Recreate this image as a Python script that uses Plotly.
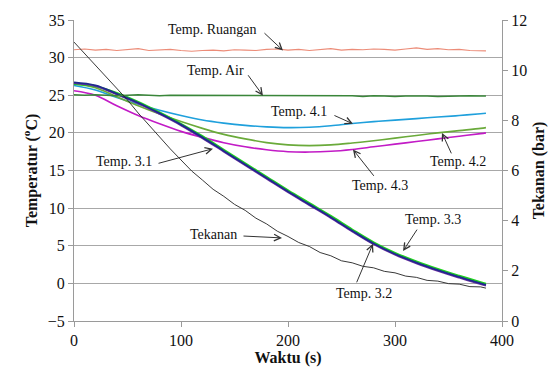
import plotly.graph_objects as go

# ---------------- data ----------------
t10 = list(range(0, 381, 10)) + [385]
t20 = list(range(0, 381, 20)) + [385]

temp_ruangan = [31.05, 31.15, 31.0, 31.1, 30.95, 31.05, 31.2, 30.95, 31.0, 31.1,
                30.95, 30.85, 30.95, 31.0, 30.9, 31.05, 31.0, 30.95, 31.1, 31.15,
                31.0, 31.1, 30.95, 31.05, 31.2, 31.0, 31.1, 31.05, 31.15, 31.1,
                31.0, 31.15, 31.3, 31.1, 31.2, 31.05, 31.1, 30.95, 30.9, 30.9]

temp_air = [25.05, 25.0, 25.05, 25.0, 24.95, 25.0, 25.05, 25.0, 24.95, 25.0,
            25.0, 24.95, 25.0, 24.95, 25.0, 24.95, 25.0, 24.9, 24.95, 25.0,
            24.95, 24.9, 24.95, 24.9, 24.95, 24.9, 24.95, 24.85, 24.95, 24.9,
            24.85, 24.9, 24.95, 24.9, 24.85, 24.9, 24.9, 24.95, 24.9, 24.9]

tekanan = [11.12, 10.66, 10.19, 9.76, 9.28, 8.81, 8.29, 7.82, 7.31, 6.86,
           6.42, 5.98, 5.62, 5.25, 4.97, 4.65, 4.41, 4.10, 3.87, 3.58,
           3.37, 3.13, 2.97, 2.73, 2.60, 2.40, 2.32, 2.18, 2.12, 1.98,
           1.92, 1.79, 1.74, 1.62, 1.59, 1.49, 1.47, 1.37, 1.36, 1.31]

temp_31 = [26.7, 26.3, 25.2, 24.0, 22.6, 21.1, 19.4, 17.6, 15.8, 14.0,
           12.2, 10.5, 8.8, 7.0, 5.3, 3.9, 2.75, 1.75, 0.85, 0.0, -0.2]
temp_32 = [26.6, 26.2, 25.1, 23.9, 22.5, 21.0, 19.3, 17.5, 15.7, 13.9,
           12.1, 10.4, 8.7, 6.9, 5.2, 3.8, 2.65, 1.65, 0.75, -0.1, -0.3]
temp_33 = [26.5, 26.2, 25.3, 24.1, 22.7, 21.2, 19.55, 17.75, 15.95, 14.15,
           12.35, 10.65, 8.95, 7.15, 5.45, 4.05, 2.9, 1.9, 1.0, 0.15, -0.05]

temp_41 = [26.3, 25.7, 24.7, 23.8, 23.0, 22.3, 21.7, 21.3, 21.0, 20.8,
           20.7, 20.75, 20.95, 21.25, 21.5, 21.7, 21.9, 22.1, 22.3, 22.55, 22.6]
temp_42 = [26.5, 26.0, 24.8, 23.6, 22.5, 21.5, 20.6, 19.8, 19.2, 18.7,
           18.4, 18.3, 18.4, 18.65, 18.95, 19.3, 19.65, 20.0, 20.3, 20.6, 20.7]
temp_43 = [25.6, 25.0, 23.6, 22.3, 21.2, 20.2, 19.4, 18.7, 18.15, 17.75,
           17.5, 17.45, 17.55, 17.8, 18.15, 18.5, 18.85, 19.2, 19.55, 19.9, 20.0]

x_ticks = [0, 100, 200, 300, 400]
y_ticks = [-5, 0, 5, 10, 15, 20, 25, 30, 35]
y2_ticks = [0, 2, 4, 6, 8, 10, 12]

# label: (text x, text y, tail x, tail y, head x, head y) in data units (s, degC)
labels = {
    "Temp. Ruangan": (129, 33.7, 176.6, 33.44, 195.3, 30.95),
    "Temp. Air": (131.8, 28.25, 161.7, 27.86, 176.6, 24.95),
    "Temp. 4.1": (210, 22.8, 242, 22.4, 260.7, 21.2),
    "Temp. 4.2": (358.9, 16.17, 353.3, 17.08, 343.9, 20.0),
    "Temp. 4.3": (286, 13.05, 281.3, 14.09, 260.7, 17.8),
    "Temp. 3.1": (46.7, 16.17, 77.6, 15.9, 129.9, 17.9),
    "Tekanan": (130.8, 6.43, 157, 6.3, 194.4, 6.04),
    "Temp. 3.3": (335.5, 8.5, 321.5, 7.34, 307.5, 4.3),
    "Temp. 3.2": (271, -1.36, 263.6, -0.06, 279.4, 5.26),
}

# ---------------- figure ----------------
fig = go.Figure()

def line(x, y, color, width, shape="linear", yaxis="y"):
    fig.add_trace(go.Scatter(x=x, y=y, mode="lines", yaxis=yaxis,
                             line=dict(color=color, width=width, shape=shape),
                             hoverinfo="skip"))

line(t20, temp_41, "#1FA0DC", 1.6, "spline")
line(t20, temp_42, "#6AAA3A", 1.6, "spline")
line(t20, temp_43, "#C21BC6", 1.6, "spline")
line(t20, temp_33, "#1ED21E", 2.2, "spline")
line(t20, temp_32, "#7030A0", 1.8, "spline")
line(t20, temp_31, "#1F2A8F", 1.8, "spline")
line(t10, temp_ruangan, "#EC8C78", 1.1)
line(t10, temp_air, "#3A863A", 1.5)
line(t10, tekanan, "#222222", 0.9, yaxis="y2")

serif = "Times New Roman, Liberation Serif, DejaVu Serif, Noto Serif, serif"
axcol = "#9A9A9A"

for txt, (tx, ty, ax, ay, hx, hy) in labels.items():
    fig.add_annotation(x=tx, y=ty, xref="x", yref="y", text=txt, showarrow=False,
                       font=dict(family=serif, size=14, color="#111"))
    fig.add_annotation(x=hx, y=hy, xref="x", yref="y", ax=ax, ay=ay,
                       axref="x", ayref="y", text="", showarrow=True,
                       arrowhead=5, arrowsize=1.3, arrowwidth=1,
                       arrowcolor="#333", standoff=0, startstandoff=0)

fig.update_layout(
    width=558, height=374,
    margin=dict(l=74, r=56, t=18, b=48),
    plot_bgcolor="white", paper_bgcolor="white",
    showlegend=False,
    font=dict(family=serif, color="#111", size=16),
    xaxis=dict(range=[0, 400], tickvals=x_ticks, ticks="outside", ticklen=5,
               tickcolor=axcol, showline=True, linecolor=axcol, linewidth=1,
               showgrid=False, zeroline=False, tickfont=dict(family=serif, size=16),
               title=dict(text="<b>Waktu (s)</b>", font=dict(family=serif, size=16), standoff=2)),
    yaxis=dict(range=[-5, 35], tickvals=y_ticks, ticks="outside", ticklen=5,
               tickcolor=axcol, showline=True, linecolor=axcol, linewidth=1,
               showgrid=True, gridcolor="#A8A8A8", gridwidth=1, zeroline=False,
               tickfont=dict(family=serif, size=16),
               title=dict(text="<b>Temperatur (<sup>o</sup>C)</b>", font=dict(family=serif, size=16), standoff=6)),
    yaxis2=dict(range=[0, 12], tickvals=y2_ticks, overlaying="y", side="right",
                ticks="outside", ticklen=5, tickcolor=axcol, showline=True,
                linecolor=axcol, linewidth=1, showgrid=False, zeroline=False,
                tickfont=dict(family=serif, size=16),
                title=dict(text="<b>Tekanan (bar)</b>", font=dict(family=serif, size=16), standoff=6)),
)

fig.write_html("out.html")
